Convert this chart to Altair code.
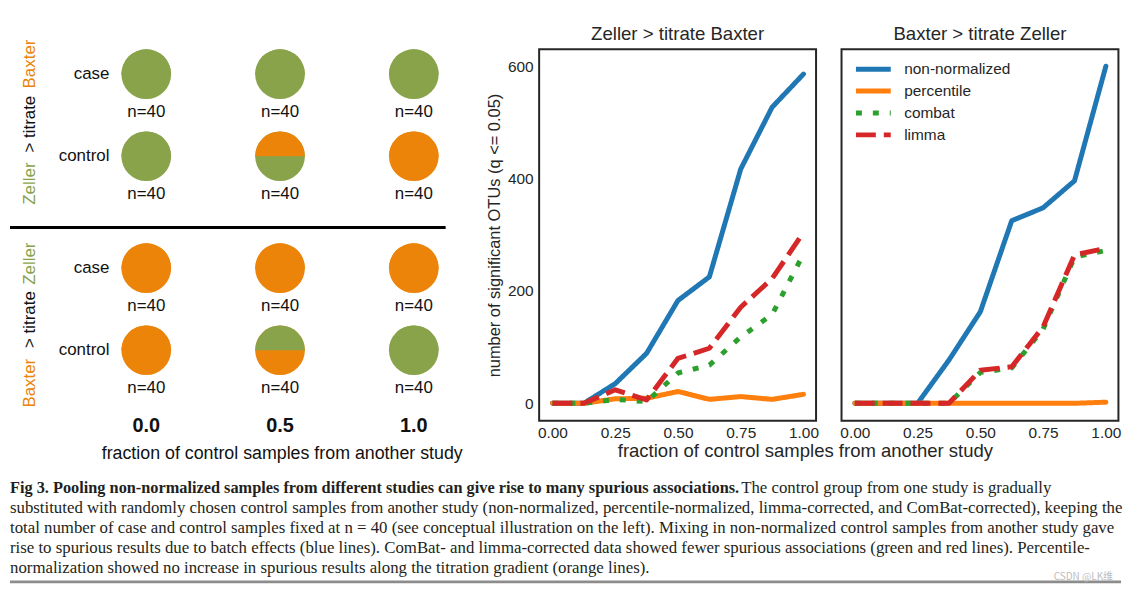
import altair as alt
import pandas as pd

# ------------------------------------------------------------------ data
FRACTIONS = [0.0, 0.125, 0.25, 0.375, 0.5, 0.625, 0.75, 0.875, 1.0]
METHODS = ["non-normalized", "percentile", "combat", "limma"]
METHOD_COLORS = ["#1f77b4", "#ff7f0e", "#2ca02c", "#d62728"]
PANEL_TITLES = ["Zeller > titrate Baxter", "Baxter > titrate Zeller"]

ZB_NON_NORMALIZED = [0, 0, 35, 89, 183, 225, 417, 527, 586]
ZB_PERCENTILE = [0, 0, 8, 9, 21, 7, 12, 7, 16]
ZB_COMBAT = [0, 0, 7, 3, 54, 68, 118, 158, 266]
ZB_LIMMA = [0, 0, 24, 6, 80, 98, 171, 222, 304]

BZ_NON_NORMALIZED = [0, 0, 0, 77, 163, 325, 348, 396, 600]
BZ_PERCENTILE = [0, 0, 0, 0, 0, 0, 0, 0, 2]
BZ_COMBAT = [0, 0, 0, 0, 55, 63, 132, 260, 272]
BZ_LIMMA = [0, 0, 0, 0, 59, 65, 136, 264, 276]

X_TICKS = [0.0, 0.25, 0.5, 0.75, 1.0]
Y_TICKS = [0, 200, 400, 600]
X_TITLE = "fraction of control samples from another study"
Y_TITLE = "number of significant OTUs (q <= 0.05)"

# schematic
STUDY_COLORS = {"Zeller": "#89a34b", "Baxter": "#eb8409"}
GROUP_HOME = ["Zeller", "Baxter"]
GROUP_OTHER = ["Baxter", "Zeller"]
ROLES = ["case", "control"]
TITRATION = [0.0, 0.5, 1.0]
TITRATION_LABELS = ["0.0", "0.5", "1.0"]
SAMPLES_N = 40

# caption
CAPTION_BOLD = ("Fig 3. Pooling non-normalized samples from different studies "
                "can give rise to many spurious associations.")
CAPTION_FIRST_REST = "The control group from one study is gradually"
CAPTION_LINES = [
    "substituted with randomly chosen control samples from another study (non-normalized, "
    "percentile-normalized, limma-corrected, and ComBat-corrected), keeping the",
    "total number of case and control samples fixed at n = 40 (see conceptual illustration "
    "on the left). Mixing in non-normalized control samples from another study gave",
    "rise to spurious results due to batch effects (blue lines). ComBat- and limma-corrected "
    "data showed fewer spurious associations (green and red lines). Percentile-",
    "normalization showed no increase in spurious results along the titration gradient "
    "(orange lines).",
]
WATERMARK = "CSDN @LK维"

INK = "#262626"
FONT = "Liberation Sans"

# ------------------------------------------------------------------ tables
SERIES = {
    PANEL_TITLES[0]: [ZB_NON_NORMALIZED, ZB_PERCENTILE, ZB_COMBAT, ZB_LIMMA],
    PANEL_TITLES[1]: [BZ_NON_NORMALIZED, BZ_PERCENTILE, BZ_COMBAT, BZ_LIMMA],
}
rows = []
for panel, series in SERIES.items():
    for m, vals in zip(METHODS, series):
        for f, v in zip(FRACTIONS, vals):
            rows.append({"panel": panel, "method": m, "fraction": f, "value": v})
lines_df = pd.DataFrame(rows)

GROUP_STEP = 2.364  # vertical distance between the two schematic groups (row units)
circ_rows, role_rows = [], []
for g, (home, other) in enumerate(zip(GROUP_HOME, GROUP_OTHER)):
    for r, role in enumerate(ROLES):
        u = g * GROUP_STEP + r
        role_rows.append({"u": u, "f": 0.0, "role": role})
        for f in TITRATION:
            top = other if (role == "control" and f >= 0.5) else home
            bottom = other if (role == "control" and f >= 1.0) else home
            circ_rows.append({"u": u, "f": f, "top": STUDY_COLORS[top],
                              "bottom": STUDY_COLORS[bottom], "n": f"n={SAMPLES_N}"})
circ_df = pd.DataFrame(circ_rows)
role_df = pd.DataFrame(role_rows)
col_df = pd.DataFrame({"f": TITRATION, "label": TITRATION_LABELS})


def px_to_u(px):
    return (px - 25.0) / 82.5


label_rows = []
GROUP_LABEL_CENTER = [73.2, 277.2]
MIDDLE_SHIFT = [2.0, -5.5]
for g, (home, other) in enumerate(zip(GROUP_HOME, GROUP_OTHER)):
    c = GROUP_LABEL_CENTER[g]
    label_rows.append({"text": home, "color": STUDY_COLORS[home], "u": px_to_u(c + 83.0), "al": "left"})
    label_rows.append({"text": "> titrate", "color": "#111111", "u": px_to_u(c + MIDDLE_SHIFT[g]), "al": "center"})
    label_rows.append({"text": other, "color": STUDY_COLORS[other], "u": px_to_u(c - 83.0), "al": "right"})
label_df = pd.DataFrame(label_rows)

cap_rows = [{"line": 0, "text": CAPTION_BOLD, "kind": "bold"},
            {"line": 0, "text": CAPTION_FIRST_REST, "kind": "rest"}]
for i, t in enumerate(CAPTION_LINES):
    cap_rows.append({"line": i + 1, "text": t, "kind": "body"})
cap_df = pd.DataFrame(cap_rows)

# ------------------------------------------------------------------ schematic
SCH_W, SCH_H = 506.3, 373.4
sx = alt.Scale(domain=[-0.5093, 1.3729], nice=False, zero=False)
sy = alt.Scale(domain=[-0.303, 4.223], nice=False, zero=False, reverse=True)
SX = alt.X("f:Q", scale=sx, axis=None)
SY = alt.Y("u:Q", scale=sy, axis=None)

cbase = alt.Chart(circ_df)
full_circ = cbase.mark_arc(theta=0, theta2=6.2832, radius=25).encode(
    x=SX, y=SY, color=alt.Color("bottom:N", scale=None))
top_half = cbase.mark_arc(theta=4.7124, theta2=7.8540, radius=25).encode(
    x=SX, y=SY, color=alt.Color("top:N", scale=None))
n_text = cbase.mark_text(dy=38, fontSize=17, color="#111111").encode(x=SX, y=SY, text="n:N")
role_text = alt.Chart(role_df).mark_text(align="right", dx=-37, fontSize=17, color="#111111").encode(
    x=SX, y=SY, text="role:N")
col_text = alt.Chart(col_df).mark_text(fontSize=20, fontWeight="bold", color="#111111").encode(
    x=SX, y=alt.value(378.4), text="label:N")
xt_text = alt.Chart(pd.DataFrame({"t": [X_TITLE]})).mark_text(fontSize=17.9, color="#111111").encode(
    x=alt.value(273.7), y=alt.value(406.7), text="t:N")
grp_layers = []
for al in ["left", "center", "right"]:
    grp_layers.append(
        alt.Chart(label_df).transform_filter(alt.datum.al == al)
        .mark_text(angle=270, align=al, baseline="middle", fontSize=17)
        .encode(x=alt.value(20), y=SY, text="text:N", color=alt.Color("color:N", scale=None))
    )
sep = alt.Chart(pd.DataFrame({"a": [0]})).mark_rule(strokeWidth=3, color="black").encode(
    x=alt.value(0), x2=alt.value(438), y=alt.value(179.2))
spacer = alt.Chart(pd.DataFrame({"a": [0]})).mark_rule(strokeWidth=1, color="white").encode(
    x=alt.value(0), y=alt.value(-38.6), y2=alt.value(0))

schematic = alt.layer(spacer, sep, full_circ, top_half, n_text, role_text, col_text, xt_text,
                      *grp_layers).properties(
    width=SCH_W, height=SCH_H, view=alt.ViewBackground(stroke="transparent"))

# ------------------------------------------------------------------ line panels
color_scale = alt.Scale(domain=METHODS, range=METHOD_COLORS)
dash_scale = alt.Scale(domain=METHODS, range=[[1, 0], [1, 0], [6, 11], [20, 8]])
CAPS = ["round", "round", "butt", "butt"]


def make_panel(idx):
    name = PANEL_TITLES[idx]
    first = idx == 0
    xkw = dict(values=X_TICKS, format=".2f", labelFontSize=15.5, labelColor=INK, labelPadding=5,
               ticks=False, domain=False, grid=False)
    if first:
        xkw.update(title=X_TITLE, titleFontSize=18.6, titleFontWeight="normal", titleColor=INK,
                   titleX=267.2, titleY=30, titleBaseline="middle", titleAlign="center")
    else:
        xkw.update(title=None)
    x_enc = alt.X("fraction:Q", scale=alt.Scale(domain=[-0.053, 1.05], nice=False, zero=False),
                  axis=alt.Axis(**xkw))
    if first:
        y_axis = alt.Axis(values=Y_TICKS, labelFontSize=15.5, labelColor=INK, labelPadding=6,
                          ticks=False, domain=False, grid=False, title=Y_TITLE, titleFontSize=16.5,
                          titleFontWeight="normal", titleColor=INK, titlePadding=4.5)
    else:
        y_axis = None
    y_enc = alt.Y("value:Q", scale=alt.Scale(domain=[-31, 630], nice=False, zero=False), axis=y_axis)
    if first:
        legend = None
    else:
        legend = alt.Legend(orient="none", legendX=12, legendY=10, title=None, labelFontSize=15.5,
                            labelColor=INK, symbolType="stroke", symbolSize=1225,
                            symbolStrokeWidth=5, clipHeight=20, rowPadding=2, labelOffset=11,
                            padding=0)
    layers = []
    for m, cap in zip(METHODS, CAPS):
        layers.append(
            alt.Chart(lines_df)
            .transform_filter((alt.datum.panel == name) & (alt.datum.method == m))
            .mark_line(strokeWidth=5, strokeCap=cap, strokeJoin="round")
            .encode(x=x_enc, y=y_enc,
                    color=alt.Color("method:N", scale=color_scale, legend=legend),
                    strokeDash=alt.StrokeDash("method:N", scale=dash_scale, legend=legend))
        )
    return alt.layer(*layers).properties(
        width=278.4, height=373.4,
        title=alt.TitleParams(name, fontSize=18.7, fontWeight="normal", color=INK, offset=6),
        view=alt.ViewBackground(stroke=INK, strokeWidth=2),
    )


p1 = make_panel(0)
p2 = make_panel(1)

top = alt.hconcat(schematic, p1, p2, spacing=25, bounds="flush").resolve_scale(
    color="independent", strokeDash="independent")

# ------------------------------------------------------------------ caption
cy = alt.Y("line:Q", scale=alt.Scale(domain=[-0.5, 4.7], reverse=True, nice=False, zero=False), axis=None)
capbase = alt.Chart(cap_df)
CAP_FONT = "Liberation Serif"
cap_bold = capbase.transform_filter(alt.datum.kind == "bold").mark_text(
    align="left", baseline="middle", font=CAP_FONT, fontSize=16.4, fontWeight="bold", color="#231f20"
).encode(x=alt.value(0), y=cy, text="text:N")
cap_rest = capbase.transform_filter(alt.datum.kind == "rest").mark_text(
    align="right", baseline="middle", font=CAP_FONT, fontSize=16.9, color="#231f20"
).encode(x=alt.value(1047), y=cy, text="text:N")
cap_body = capbase.transform_filter(alt.datum.kind == "body").mark_text(
    align="left", baseline="middle", font=CAP_FONT, fontSize=16.9, color="#231f20"
).encode(x=alt.value(0), y=cy, text="text:N")
cap_rule = alt.Chart(pd.DataFrame({"a": [0]})).mark_rule(color="#8c8c8c", strokeWidth=3).encode(
    x=alt.value(0), x2=alt.value(1117), y=alt.value(104))
wm = alt.Chart(pd.DataFrame({"t": [WATERMARK]})).mark_text(
    align="right", baseline="middle", fontSize=10, color="#bdbdbd", font="Noto Sans CJK SC"
).encode(x=alt.value(1109), y=alt.value(99), text="t:N")

caption = alt.layer(cap_rule, wm, cap_bold, cap_rest, cap_body).properties(
    width=1114, height=104, view=alt.ViewBackground(stroke="transparent"))

# the nested top row counts as zero height in flush layout, so its plot height
# (373.4) is part of the spacing
chart = alt.vconcat(top, caption, spacing=431.4, bounds="flush", padding=0).configure(font=FONT)

chart.save("out.html", embed_options={"renderer": "svg", "actions": False})
